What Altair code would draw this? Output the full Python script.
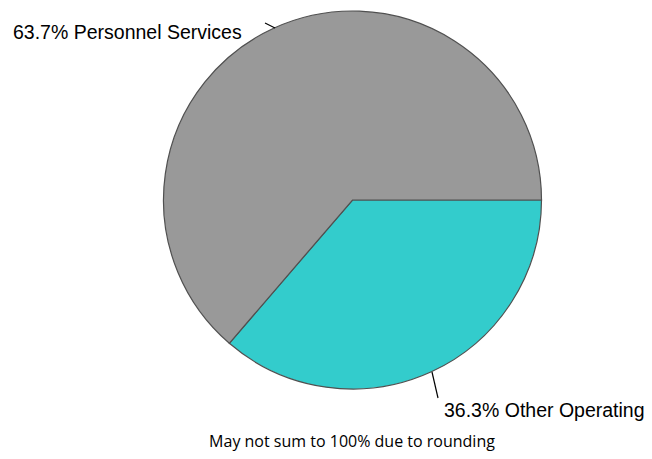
import math
import altair as alt
import pandas as pd

categories = ["Other Operating", "Personnel Services"]
values = [36.3, 63.7]
colors = ["#33CCCC", "#999999"]
footnote = "May not sum to 100% due to rounding"

df = pd.DataFrame({"category": categories, "value": values, "ord": [0, 1]})
df["label"] = [f"{v}%  {c}" for c, v in zip(categories, values)]

CX, CY, R = 344.5, 192, 189

pie = alt.Chart(df).mark_arc(stroke="#505050", strokeWidth=1.2).encode(
    theta=alt.Theta("value:Q", stack=True,
                    scale=alt.Scale(range=[math.pi / 2, math.pi / 2 + 2 * math.pi])),
    color=alt.Color("category:N", scale=alt.Scale(domain=categories, range=colors), legend=None),
    order=alt.Order("ord:Q"),
    x=alt.value(CX), y=alt.value(CY),
    radius=alt.value(R),
)

lab_font = "Liberation Sans"

top_label = alt.Chart(df[df.category == "Personnel Services"]).mark_text(
    align="left", baseline="alphabetic", font=lab_font, fontSize=19.5, color="#000000"
).encode(text="label:N", x=alt.value(5), y=alt.value(31))

bot_label = alt.Chart(df[df.category == "Other Operating"]).mark_text(
    align="left", baseline="alphabetic", font=lab_font, fontSize=19.5, color="#000000"
).encode(text="label:N", x=alt.value(436), y=alt.value(409))

lines = pd.DataFrame({"k": [0, 1]})
top_line = alt.Chart(lines[lines.k == 0]).mark_rule(color="#000000", strokeWidth=1.2).encode(
    x=alt.value(257), y=alt.value(15), x2=alt.value(267), y2=alt.value(20))
bot_line = alt.Chart(lines[lines.k == 1]).mark_rule(color="#000000", strokeWidth=1.2).encode(
    x=alt.value(424), y=alt.value(364), x2=alt.value(430), y2=alt.value(390))

note = alt.Chart(pd.DataFrame({"t": [footnote]})).mark_text(
    align="center", baseline="alphabetic", font="Open Sans", fontSize=16, color="#000000"
).encode(text="t:N", x=alt.value(344), y=alt.value(439))

chart = alt.layer(pie, top_line, bot_line, top_label, bot_label, note).properties(
    width=636, height=443, padding=0, autosize=alt.AutoSizeParams(type="none")
).configure_view(stroke=None)

chart.save("out.html", embed_options={"renderer": "svg", "actions": False})
